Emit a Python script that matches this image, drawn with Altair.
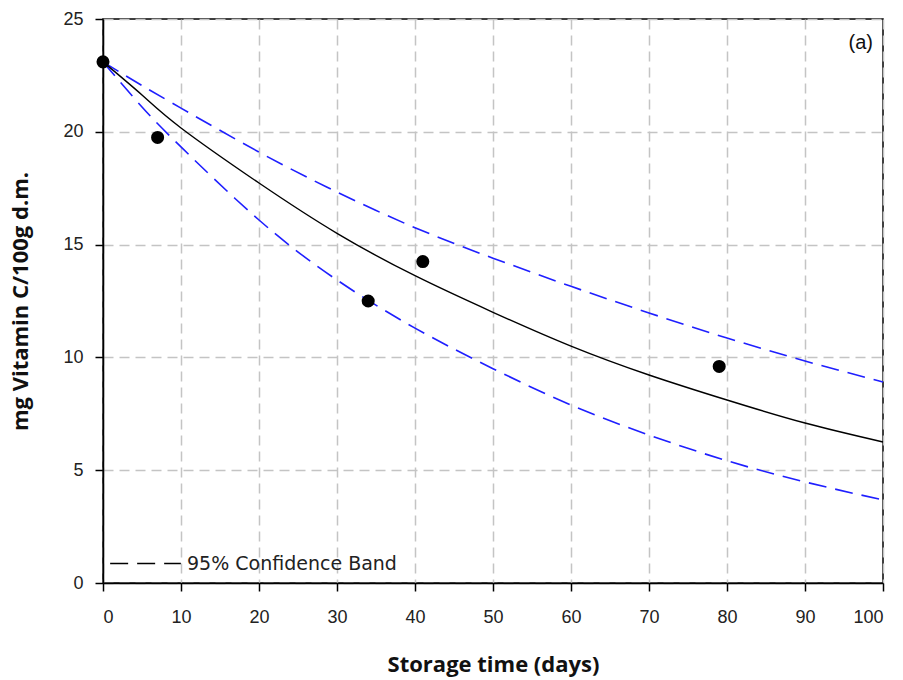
import altair as alt
import pandas as pd

# Observed data points
obs_t = [0, 7, 34, 41, 79]
obs_c = [23.1, 19.75, 12.5, 14.25, 9.6]

# Fitted curve and confidence band
curve_t = [0, 5, 10, 20, 30, 40, 50, 60, 70, 80, 90, 100]
fit_c = [23.1, 21.63, 20.17, 17.73, 15.5, 13.62, 12.0, 10.5, 9.22, 8.11, 7.09, 6.25]
upper_c = [23.1, 22.05, 21.05, 19.1, 17.33, 15.75, 14.4, 13.15, 11.97, 10.86, 9.84, 8.91]
lower_c = [23.1, 21.1, 19.33, 16.09, 13.43, 11.3, 9.5, 7.89, 6.56, 5.42, 4.48, 3.68]

x_ticks = [0, 10, 20, 30, 40, 50, 60, 70, 80, 90, 100]
y_ticks = [0, 5, 10, 15, 20, 25]

band_label = "95% Confidence Band"
panel_label = "(a)"

FONT = "Liberation Sans"
LFONT = "DejaVu Sans"
TFONT = "Open Sans"
W, H = 780, 564

obs = pd.DataFrame({"t": obs_t, "c": obs_c})
fit = pd.DataFrame({"t": curve_t, "c": fit_c})
band = pd.DataFrame({
    "t": curve_t + curve_t,
    "c": upper_c + lower_c,
    "which": ["upper"] * len(curve_t) + ["lower"] * len(curve_t),
    "band": [band_label] * (2 * len(curve_t)),
})

x_enc = alt.X("t:Q", scale=alt.Scale(domain=[0, 100], nice=False),
              axis=alt.Axis(values=x_ticks, title="Storage time (days)", format="d"))
y_enc = alt.Y("c:Q", scale=alt.Scale(domain=[0, 25], nice=False),
              axis=alt.Axis(values=y_ticks, title="mg Vitamin C/100g d.m.", format="d"))

band_lines = alt.Chart(band).mark_line(
    color="#1f1fff", strokeWidth=1.6, interpolate="natural"
).encode(
    x=x_enc, y=y_enc, detail="which:N",
    strokeDash=alt.StrokeDash(
        "band:N",
        scale=alt.Scale(domain=[band_label], range=[[18, 9]]),
        legend=alt.Legend(
            title=None, orient="none", legendX=6, legendY=508,
            symbolType="stroke", symbolSize=5000, symbolStrokeColor="black",
            symbolStrokeWidth=1.5, labelFontSize=19, labelFont=LFONT,
            labelColor="#222222", labelOffset=5, labelLimit=400,
        ),
    ),
)

fit_line = alt.Chart(fit).mark_line(
    color="black", strokeWidth=1.4, interpolate="natural"
).encode(x=x_enc, y=y_enc)

points = alt.Chart(obs).mark_point(
    filled=True, color="black", size=170, opacity=1
).encode(x=x_enc, y=y_enc)

label = alt.Chart(pd.DataFrame({"txt": [panel_label]})).mark_text(
    font=FONT, fontSize=20, align="right", baseline="middle", color="#111111"
).encode(text="txt:N", x=alt.value(W - 10), y=alt.value(24))

chart = alt.layer(band_lines, fit_line, points, label).properties(
    width=W, height=H,
    autosize=alt.AutoSizeParams(type="none"),
    padding={"left": 103, "top": 19, "right": 20, "bottom": 97},
).configure_view(
    stroke="black", strokeWidth=1.5
).configure_axis(
    domainColor="black", domainWidth=1.5,
    tickColor="black", tickWidth=1.5, tickSize=8,
    grid=True, gridColor="#c4c4c4", gridDash=[10, 6], gridWidth=1.5,
    labelFont=FONT, labelFontSize=18, labelColor="#222222",
    titleFont=TFONT, titleFontSize=22, titleFontWeight="bold", titleColor="#111111",
).configure_axisX(
    labelPadding=17, titlePadding=28
).configure_axisY(
    labelPadding=12, titlePadding=30
)

chart.save("out.html", embed_options={"renderer": "svg", "actions": False})
